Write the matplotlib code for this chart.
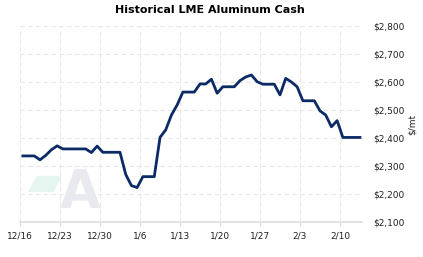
import numpy as np
import pandas as pd
import matplotlib.pyplot as plt
import matplotlib.ticker as mticker
plt.switch_backend('agg')

# daily cash price, $/mt, 12/16 .. 2/13 (weekends carried flat)
start = pd.Timestamp('2019-12-16')
prices = [2336, 2336, 2336, 2322, 2338, 2358, 2372, 2361, 2361, 2361,
          2361, 2361, 2348, 2371, 2349, 2349, 2349, 2349, 2270, 2230,
          2223, 2262, 2262, 2262, 2402, 2429, 2482, 2518, 2564, 2564,
          2564, 2593, 2593, 2610, 2560, 2583, 2583, 2583, 2605, 2618,
          2625, 2601, 2592, 2592, 2592, 2554, 2613, 2600, 2583, 2533,
          2533, 2533, 2497, 2482, 2440, 2462, 2402, 2402, 2402, 2402]
dates = start + pd.to_timedelta(np.arange(len(prices)) + 0.5, unit='D')
tick_dates = start + pd.to_timedelta(np.arange(0, 57, 7), unit='D')
tick_labels = [f"{d.month}/{d.day}" for d in tick_dates]
y_ticks = list(range(2100, 2801, 100))

fig = plt.figure(figsize=(4.23, 2.57), dpi=100)
ax = fig.add_axes([20 / 423, 35 / 257, 342 / 423, 196 / 257])

# faint logo watermark
fig.text(80 / 423, 1 - 193 / 257, "A", fontsize=38, fontweight='bold',
         color='#e8eaef', ha='center', va='center', zorder=0)
fig.text(45 / 423, 1 - 183 / 257, "\u25B0", fontsize=32,
         color='#e4f6ef', ha='center', va='center', zorder=0)

ax.plot(dates, prices, color='#0b2a66', lw=2.0, solid_joinstyle='round', zorder=3)

ax.set_xlim(start, start + pd.Timedelta(days=59.85))
ax.set_ylim(2100, 2800)
ax.set_xticks(tick_dates)
ax.set_xticklabels(tick_labels)
ax.set_yticks(y_ticks)
ax.yaxis.set_major_formatter(mticker.FuncFormatter(lambda v, p: f"${v:,.0f}"))
ax.yaxis.tick_right()
ax.yaxis.set_label_position('right')
ax.set_ylabel('$/mt', fontsize=6.5, color='#222222', labelpad=2)

ax.grid(True, color='#e8e8e8', linestyle=(0, (4, 3)), linewidth=0.8)
ax.set_axisbelow(True)
for s in ['top', 'left', 'right']:
    ax.spines[s].set_visible(False)
ax.spines['bottom'].set_color('#dddddd')
ax.spines['bottom'].set_linewidth(1.2)
ax.tick_params(axis='x', length=3, color='#dddddd', labelsize=6.5,
               labelcolor='#222222', pad=4)
ax.tick_params(axis='y', length=0, labelsize=6.5, labelcolor='#222222', pad=8)

fig.suptitle('Historical LME Aluminum Cash', x=210 / 423, y=1 - 10 / 257,
             fontsize=8, fontweight='bold', va='center')

fig.savefig('out.png', dpi=100)
